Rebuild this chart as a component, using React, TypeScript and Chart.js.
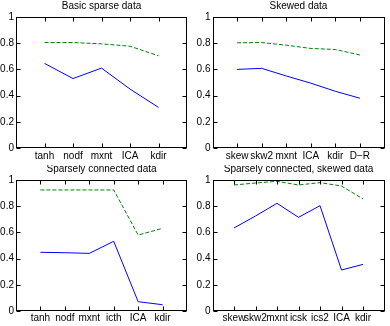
import React, { useEffect, useRef } from "react";
import { Chart, registerables } from "chart.js";

Chart.register(...registerables);

// ---- Data ----
const titles = [
  "Basic sparse data",
  "Skewed data",
  "Sparsely connected data",
  "Sparsely connected, skewed data",
];

const labels1 = ["tanh", "nodf", "mxnt", "ICA", "kdir"];
const blue1 = [0.646, 0.53, 0.61, 0.45, 0.31];
const green1 = [0.805, 0.805, 0.795, 0.777, 0.704];

const labels2 = ["skew", "skw2", "mxnt", "ICA", "kdir", "D\u2212R"];
const blue2 = [0.6, 0.608, 0.55, 0.495, 0.433, 0.38];
const green2 = [0.803, 0.805, 0.785, 0.76, 0.752, 0.71];

const labels3 = ["tanh", "nodf", "mxnt", "icth", "ICA", "kdir"];
const blue3 = [0.448, 0.445, 0.44, 0.532, 0.071, 0.048];
const green3 = [0.924, 0.924, 0.924, 0.924, 0.58, 0.631];

const labels4 = ["skew", "skw2", "mxnt", "icsk", "ics2", "ICA", "kdir"];
const blue4 = [0.634, 0.725, 0.822, 0.715, 0.804, 0.313, 0.356];
const green4 = [0.962, 0.977, 0.99, 0.962, 0.98, 0.954, 0.855];

const yTicks = [0, 0.2, 0.4, 0.6, 0.8, 1];

const FONT = "'Liberation Sans', Arial, Helvetica, sans-serif";

type PanelProps = {
  title: string;
  labels: string[];
  blue: number[];
  green: number[];
  left: number;
  top: number;
  width: number;
  height: number;
  yAxisW: number;
  padTop: number;
  padRight: number;
  xAxisH: number;
  xPad: number;
};

const boxPlugin = {
  id: "mplbox",
  afterDraw(chart: any, _args: any, opts: any) {
    const { ctx, chartArea } = chart;
    const { left, right, top, bottom } = chartArea;
    const xs = chart.scales.x;
    const ys = chart.scales.y;
    ctx.save();
    ctx.strokeStyle = "#000";
    ctx.lineWidth = 1;
    const L = Math.round(left) + 0.5;
    const R = Math.round(right) - 0.5;
    const T = Math.round(top) + 0.5;
    const B = Math.round(bottom) - 0.5;
    ctx.strokeRect(L, T, R - L, B - T);
    ctx.beginPath();
    const tl = 4;
    xs.ticks.forEach((t: any) => {
      const px = Math.round(xs.getPixelForValue(t.value)) + 0.5;
      ctx.moveTo(px, B);
      ctx.lineTo(px, B - tl);
      ctx.moveTo(px, T);
      ctx.lineTo(px, T + tl);
    });
    ys.ticks.forEach((t: any) => {
      const py = Math.round(ys.getPixelForValue(t.value)) + 0.5;
      ctx.moveTo(L, py);
      ctx.lineTo(L + tl, py);
      ctx.moveTo(R, py);
      ctx.lineTo(R - tl, py);
    });
    ctx.stroke();
    // title
    ctx.fillStyle = "#000";
    ctx.font = `10px ${FONT}`;
    ctx.textAlign = "center";
    ctx.textBaseline = "middle";
    ctx.fillText(opts.text, (left + right) / 2, top - 10.5);
    ctx.restore();
  },
};

function Panel(p: PanelProps) {
  const ref = useRef<HTMLCanvasElement | null>(null);
  useEffect(() => {
    if (!ref.current) return;
    const n = p.labels.length;
    const chart = new Chart(ref.current, {
      type: "line",
      data: {
        datasets: [
          {
            data: p.blue.map((v, i) => ({ x: i + 1, y: v })),
            borderColor: "#0000ff",
            borderWidth: 1,
            pointRadius: 0,
            fill: false,
            tension: 0,
          },
          {
            data: p.green.map((v, i) => ({ x: i + 1, y: v })),
            borderColor: "#008000",
            borderWidth: 1,
            borderDash: [4, 2],
            pointRadius: 0,
            fill: false,
            tension: 0,
          },
        ],
      },
      options: {
        animation: false,
        responsive: false,
        maintainAspectRatio: false,
        events: [],
        layout: { padding: { top: p.padTop, right: p.padRight, left: 0, bottom: 0 } },
        plugins: {
          legend: { display: false },
          tooltip: { enabled: false },
          title: { display: false },
          mplbox: { text: p.title },
        } as any,
        scales: {
          x: {
            type: "linear",
            min: 0,
            max: n + 1,
            grid: { display: false, drawTicks: false, tickLength: 0 },
            border: { display: false },
            afterBuildTicks: (s: any) => {
              s.ticks = p.labels.map((_, i) => ({ value: i + 1 }));
            },
            afterFit: (s: any) => {
              s.height = p.xAxisH;
            },
            ticks: {
              autoSkip: false,
              maxRotation: 0,
              minRotation: 0,
              padding: p.xPad,
              color: "#000",
              font: { family: FONT, size: 10 },
              callback: (v: any) => p.labels[Math.round(Number(v)) - 1] ?? "",
            },
          },
          y: {
            type: "linear",
            min: 0,
            max: 1,
            grid: { display: false, drawTicks: false, tickLength: 0 },
            border: { display: false },
            afterBuildTicks: (s: any) => {
              s.ticks = yTicks.map((v) => ({ value: v }));
            },
            afterFit: (s: any) => {
              s.width = p.yAxisW;
            },
            ticks: {
              padding: 2,
              color: "#000",
              font: { family: FONT, size: 10 },
              callback: (v: any) => {
                const x = Number(v);
                if (x === 0) return "0";
                if (x === 1) return "1";
                return x.toFixed(1);
              },
            },
          },
        },
      },
      plugins: [boxPlugin],
    });
    return () => chart.destroy();
  }, []);
  return (
    <div
      style={{
        position: "absolute",
        left: p.left,
        top: p.top,
        width: p.width,
        height: p.height,
      }}
    >
      <canvas ref={ref} width={p.width} height={p.height} style={{ display: "block" }} />
    </div>
  );
}

export default function App() {
  return (
    <div
      style={{
        position: "fixed",
        left: 0,
        top: 0,
        width: 390,
        height: 326,
        background: "#fff",
        overflow: "hidden",
      }}
    >
      <Panel title={titles[0]} labels={labels1} blue={blue1} green={green1}
        left={0} top={0} width={195} height={165}
        yAxisW={16} padTop={17} padRight={8} xAxisH={17} xPad={2} />
      <Panel title={titles[1]} labels={labels2} blue={blue2} green={green2}
        left={195} top={0} width={195} height={165}
        yAxisW={17.5} padTop={17} padRight={5.5} xAxisH={17} xPad={2} />
      <Panel title={titles[2]} labels={labels3} blue={blue3} green={green3}
        left={0} top={165} width={195} height={161}
        yAxisW={16} padTop={15} padRight={8} xAxisH={15} xPad={1} />
      <Panel title={titles[3]} labels={labels4} blue={blue4} green={green4}
        left={195} top={165} width={195} height={161}
        yAxisW={17.5} padTop={15} padRight={5.5} xAxisH={15} xPad={1} />
    </div>
  );
}
